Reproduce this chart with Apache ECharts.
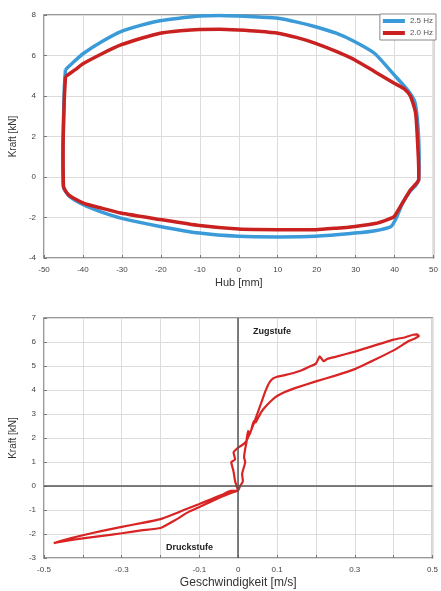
<!DOCTYPE html>
<html>
<head>
<meta charset="utf-8">
<script src="https://cdn.jsdelivr.net/npm/echarts@6/dist/echarts.min.js"></script>
<style>
  html, body { margin: 0; padding: 0; background: #fff; }
  #chart { width: 441px; height: 591px; }
</style>
</head>
<body>
<div id="chart"></div>
<script>
  // Kraft-Weg Schleifen (oben)
  var seriesNames = ['2.5 Hz', '2.0 Hz'];
  var blueHub = [-44.5, -42, -39.9, -35, -30.3, -25, -20.2, -15, -10.1, -5, 0, 5, 10.1, 15, 19.7, 25, 29.8, 34.9, 39.9, 43.3, 45.2, 46, 46.3, 46.2, 45.5, 44, 42, 40.5, 39.1, 35, 29.8, 19.7, 10.1, 0, -10.1, -20.2, -30.3, -35, -39.9, -43.5, -45, -45.2, -45, -44.8, -44.5];
  var blueKraft = [5.3, 5.75, 6.1, 6.7, 7.18, 7.5, 7.72, 7.85, 7.95, 7.98, 7.95, 7.9, 7.84, 7.65, 7.42, 7.1, 6.68, 6.1, 5.04, 4.3, 3.7, 2.5, 1.0, -0.1, -0.4, -0.7, -1.3, -2.0, -2.44, -2.65, -2.77, -2.93, -2.96, -2.93, -2.77, -2.44, -2.03, -1.75, -1.37, -0.95, -0.5, 1.0, 2.8, 4.3, 5.3];
  var redHub = [-44.5, -42, -39.9, -35, -30.3, -25, -20.2, -15, -10.1, -5, 0, 5, 10.1, 15, 19.7, 25, 29.8, 34.9, 39.9, 42.5, 44.1, 45.4, 46, 46.2, 46.2, 45.2, 44.1, 42, 39.9, 38.2, 35, 29.8, 25, 19.7, 10.1, 0, -10.1, -20.2, -30.3, -35, -39.9, -43.7, -45, -45.1, -44.8, -44.5];
  var redKraft = [4.96, 5.3, 5.6, 6.1, 6.52, 6.85, 7.1, 7.22, 7.29, 7.3, 7.26, 7.2, 7.1, 6.88, 6.6, 6.2, 5.78, 5.2, 4.63, 4.35, 3.97, 3.15, 1.34, 0.3, -0.14, -0.4, -0.63, -1.29, -1.95, -2.1, -2.3, -2.44, -2.53, -2.6, -2.6, -2.57, -2.4, -2.1, -1.78, -1.55, -1.29, -0.88, -0.47, 1.34, 3.8, 4.96];

  // Kraft-Geschwindigkeit (unten)
  var geschw = [0.0, -0.008, -0.012, -0.018, -0.008, -0.012, 0.0, 0.01, 0.02, 0.03, 0.04, 0.05, 0.06, 0.07, 0.08, 0.09, 0.1, 0.12, 0.14, 0.16, 0.18, 0.2, 0.21, 0.22, 0.23, 0.25, 0.3, 0.35, 0.4, 0.43, 0.45, 0.46, 0.465, 0.455, 0.44, 0.4, 0.35, 0.3, 0.25, 0.2, 0.15, 0.12, 0.1, 0.085, 0.07, 0.06, 0.05, 0.045, 0.04, 0.03, 0.025, 0.02, 0.022, 0.015, 0.018, 0.01, 0.012, 0.005, 0.0, -0.02, -0.05, -0.1, -0.13, -0.16, -0.2, -0.25, -0.3, -0.35, -0.4, -0.44, -0.47, -0.475, -0.46, -0.4, -0.35, -0.3, -0.25, -0.2, -0.17, -0.14, -0.1, -0.07, -0.04, -0.02, 0.0];
  var geschwKraft = [-0.2, 0.2, 0.6, 1.0, 1.1, 1.4, 1.6, 1.7, 1.85, 2.2, 2.6, 3.05, 3.5, 3.95, 4.3, 4.48, 4.55, 4.62, 4.7, 4.8, 4.95, 5.1, 5.4, 5.2, 5.3, 5.38, 5.6, 5.85, 6.1, 6.2, 6.3, 6.32, 6.25, 6.15, 6.05, 5.65, 5.25, 4.87, 4.6, 4.36, 4.1, 3.92, 3.75, 3.55, 3.3, 3.1, 2.8, 2.65, 2.7, 2.15, 2.3, 1.7, 1.9, 1.2, 1.0, 0.5, 0.2, 0.0, -0.18, -0.3, -0.5, -0.88, -1.1, -1.4, -1.75, -1.85, -1.97, -2.08, -2.18, -2.28, -2.36, -2.38, -2.3, -2.05, -1.87, -1.7, -1.55, -1.38, -1.2, -1.0, -0.75, -0.55, -0.35, -0.2, -0.2];
  var geschwLabels = [-0.5, -0.3, -0.1, 0, 0.1, 0.3, 0.5];

  function pairs(xs, ys) {
    return xs.map(function (x, i) { return [x, ys[i]]; });
  }

  var fontFam = '"Liberation Sans", Arial, sans-serif';
  var labelStyle = { fontSize: 8, color: '#444', fontFamily: fontFam };
  var splitStyle = { show: true, lineStyle: { color: '#dcdcdc', width: 1 } };
  var tickStyle = { show: true, inside: true, length: 3, lineStyle: { color: '#777' } };
  var noLine = { show: false, onZero: false };
  var nameStyle = { fontSize: 11, color: '#333', fontFamily: fontFam };

  var myChart = echarts.init(document.getElementById('chart'));
  var option = {
    backgroundColor: '#fff',
    animation: false,
    legend: {
      data: seriesNames,
      orient: 'vertical',
      right: 5,
      top: 14,
      icon: 'rect',
      itemWidth: 22,
      itemHeight: 4,
      itemGap: 4,
      padding: [3, 3, 3, 3],
      backgroundColor: '#fff',
      borderColor: '#888',
      borderWidth: 1,
      textStyle: { fontSize: 8, color: '#555', fontFamily: fontFam }
    },
    grid: [
      { left: 40, top: 15, width: 397, height: 243, show: true, borderColor: '#777', borderWidth: 1.5, backgroundColor: '#fff' },
      { left: 40, top: 318, width: 397, height: 240, show: true, borderColor: '#777', borderWidth: 1.5, backgroundColor: '#fff' }
    ],
    xAxis: [
      {
        gridIndex: 0, type: 'value', min: -50, max: 50, interval: 10,
        name: 'Hub [mm]', nameLocation: 'middle', nameGap: 19, nameTextStyle: nameStyle,
        axisLine: noLine, axisTick: tickStyle, axisLabel: labelStyle, splitLine: splitStyle
      },
      {
        gridIndex: 1, type: 'value', min: -0.5, max: 0.5, interval: 0.1,
        name: 'Geschwindigkeit [m/s]', nameLocation: 'middle', nameGap: 19,
        nameTextStyle: { fontSize: 12, color: '#333', fontFamily: fontFam },
        axisLine: noLine, axisTick: tickStyle, splitLine: splitStyle,
        axisLabel: {
          fontSize: 8, color: '#444', fontFamily: fontFam,
          formatter: function (v) {
            var r = Math.round(v * 10) / 10;
            return geschwLabels.indexOf(r) >= 0 ? String(r) : '';
          }
        }
      }
    ],
    yAxis: [
      {
        gridIndex: 0, type: 'value', min: -4, max: 8, interval: 2,
        name: 'Kraft [kN]', nameLocation: 'middle', nameGap: 20,
        nameTextStyle: { fontSize: 10, color: '#333', fontFamily: fontFam },
        axisLine: noLine, axisTick: tickStyle, axisLabel: labelStyle, splitLine: splitStyle
      },
      {
        gridIndex: 1, type: 'value', min: -3, max: 7, interval: 1,
        name: 'Kraft [kN]', nameLocation: 'middle', nameGap: 20,
        nameTextStyle: { fontSize: 10, color: '#333', fontFamily: fontFam },
        axisLine: noLine, axisTick: tickStyle, axisLabel: labelStyle, splitLine: splitStyle
      }
    ],
    series: [
      {
        name: seriesNames[0], type: 'line', xAxisIndex: 0, yAxisIndex: 0,
        data: pairs(blueHub, blueKraft), showSymbol: false, smooth: 0.2,
        color: '#3b9ad8', lineStyle: { width: 3.5, color: '#3b9ad8' }
      },
      {
        name: seriesNames[1], type: 'line', xAxisIndex: 0, yAxisIndex: 0,
        data: pairs(redHub, redKraft), showSymbol: false, smooth: 0.2,
        color: '#c92020', lineStyle: { width: 3.5, color: '#c92020' }
      },
      {
        name: 'Kennlinie', type: 'line', xAxisIndex: 1, yAxisIndex: 1,
        data: pairs(geschw, geschwKraft), showSymbol: false, smooth: 0.15,
        lineStyle: { width: 2.2, color: '#d82424' },
        markLine: {
          silent: true, symbol: 'none', label: { show: false },
          lineStyle: { color: '#555', width: 1.5, type: 'solid' },
          data: [{ xAxis: 0 }, { yAxis: 0 }]
        },
        z: 3
      }
    ],
    graphic: [
      { type: 'text', left: 253, top: 327, style: { text: 'Zugstufe', font: 'bold 9px ' + fontFam, fill: '#222' } },
      { type: 'text', left: 166, top: 543, style: { text: 'Druckstufe', font: 'bold 9px ' + fontFam, fill: '#222' } }
    ]
  };
  myChart.setOption(option);
</script>
</body>
</html>
